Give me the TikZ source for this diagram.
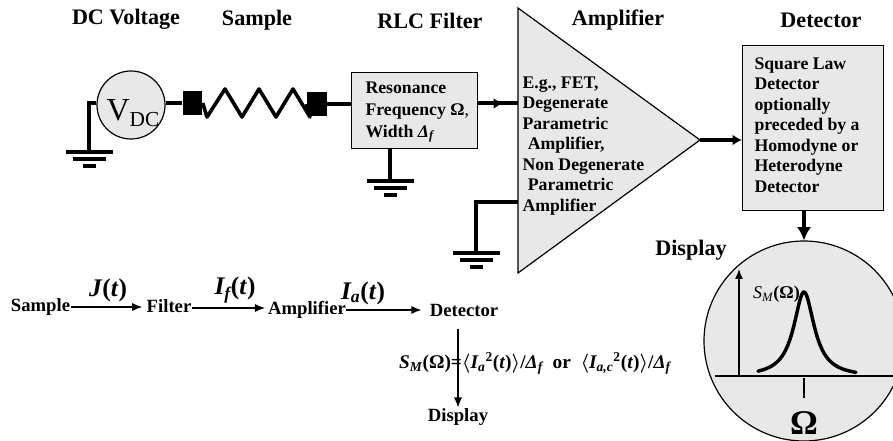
\documentclass[tikz,border=0pt]{standalone}
\usepackage{fontspec}
\setmainfont{Liberation Serif}
\usetikzlibrary{arrows.meta}
\tikzset{every picture/.style={line width=0.75pt}}
\definecolor{panelgray}{RGB}{232,232,232}
\tikzset{
  heading/.style={inner sep=0pt,font=\fontsize{16.6}{18}\selectfont\bfseries},
  boxtext/.style={inner sep=0pt,align=left,anchor=north west,font=\fontsize{13.3}{15.4}\selectfont\bfseries},
  flowtext/.style={inner sep=0pt,text height=9pt,text depth=2.5pt,font=\fontsize{14}{16}\selectfont\bfseries},
  signal/.style={inner sep=0pt,font=\fontsize{19}{21}\selectfont\bfseries\itshape},
  panel/.style={draw=black,fill=panelgray,line width=0.9pt},
  wire/.style={line width=3pt},
  lead/.style={line width=3pt,-{Latex[length=7pt,width=8pt]}},
  flow/.style={line width=0.8pt,-{Latex[length=7.5pt,width=6pt]}},
  padblock/.style={fill=black,inner sep=0pt,minimum width=14.5pt,minimum height=18pt},
  groundbars/.pic={
    \fill (-23.5,2.3) rectangle (23.5,-2.3);
    \fill (-16.5,-4.7) rectangle (16.5,-9.3);
    \fill (-6.5,-11.7) rectangle (6.5,-16.3);
  }
}
\begin{document}
\begin{tikzpicture}[x=0.75pt,y=0.75pt,yscale=-1,xscale=1]
\useasboundingbox (0,0) rectangle (893,441);
\clip (0,0) rectangle (893,441);

% Headings
\node [heading] (headVolt) at (126,19.5) {DC Voltage};
\node [heading] (headSample) at (257,20.5) {Sample};
\node [heading] (headFilter) at (430,20.5) {RLC Filter};
\node [heading] (headAmp) at (618,20.5) {Amplifier};
\node [heading] (headDet) at (821,20.5) {Detector};
\node [heading] (headDisplay) at (691,250) {Display};

% Source
\node [panel,circle,inner sep=0pt,minimum size=51pt] (vdc) at (131,105) {};
\node [inner sep=0pt,font=\fontsize{24}{26}\selectfont] (vdcLabel) at (133,113) {V\raisebox{-4.5pt}{\fontsize{16}{18}\selectfont DC}};
\coordinate (groundA) at (89,152);
\draw [wire] (vdc.west |- 0,103) -- (89,103) -- (groundA);
\path (groundA) pic {groundbars};

% Sample
\node [padblock] (padLeft) at (192.5,103) {};
\node [padblock] (padRight) at (317,104) {};
\draw [wire] (vdc.east |- padLeft) -- (padLeft);
\draw [line width=2.7pt,line join=round] (padLeft.east) -- (207,117) -- (225,89) -- (242,117) -- (259,89) -- (276,117) -- (293,89) -- (310,117) -- (padRight.west);

% Filter
\node [panel,anchor=north west,inner sep=0pt,minimum width=94.5pt,minimum height=57pt] (filterBox) at (351,72) {};
\node [boxtext,font=\fontsize{13.3}{16.5}\selectfont\bfseries] (filterText) at (365,81) {Resonance\\Frequency Ω{\mdseries,}\\Width \textbf{\textit{Δ\textsubscript{f}}}};
\coordinate (groundB) at (390,181);
\draw [wire] (filterBox.south -| groundB) -- (groundB);
\path (groundB) pic {groundbars};
\draw [wire] (padRight) -- (padRight -| filterBox.west);

% Amplifier
\coordinate (ampTop) at (518,8);
\coordinate (ampBottom) at (518,273);
\coordinate (ampTip) at (700,140);
\coordinate (ampIn) at (518,103.5);
\coordinate (ampGnd) at (518,202);
\coordinate (groundC) at (476,253);
\draw [panel] (ampTop) -- (ampTip) -- (ampBottom) -- cycle;
\node [boxtext] (ampText) at (522,76) {E.g., FET,\\Degenerate\\Parametric\\\hspace*{4pt}Amplifier,\\Non Degenerate\\\hspace*{4pt}Parametric\\Amplifier};
\draw [wire] (filterBox.east |- ampIn) -- (ampIn);
\draw [lead] (filterBox.east |- ampIn) -- (503,103.5);
\draw [wire] (ampGnd) -- (476,202) -- (groundC);
\path (groundC) pic {groundbars};

% Detector
\node [panel,anchor=north west,inner sep=0pt,minimum width=105.75pt,minimum height=123.75pt] (detBox) at (742,45) {};
\node [boxtext] (detText) at (754,57) {Square Law\\Detector\\optionally\\preceded by a\\Homodyne or\\Heterodyne\\Detector};
\draw [lead] (ampTip) -- (ampTip -| detBox.west);

% Display
\node [panel,circle,inner sep=0pt,minimum size=150pt] (screen) at (804,341) {};
\draw [wire,-{Latex[length=10pt,width=10.7pt]}] (detBox.south -| screen.north) -- (screen.north);
\coordinate (axisO) at (739,376);
\coordinate (axisY) at (739,269);
\coordinate (axisL) at (715,376);
\coordinate (axisR) at (893,376);
\draw [flow,line width=1pt] (axisO) -- (axisY);
\draw [line width=1pt] (axisL) -- (axisR);
\draw [line width=2.6pt,line cap=round] plot[domain=758:856,samples=70,smooth] (\x,{377-85/(1+((\x-804)/12.5)^2)});
\node [inner sep=0pt,font=\fontsize{13.5}{15}\selectfont] (screenLabel) at (776.5,294) {\textit{S\textsubscript{M}}\textbf{(Ω)}};
\node [inner sep=0pt,font=\fontsize{26}{28}\selectfont\bfseries] (screenOmega) at (804,423) {Ω};
\coordinate (tickA) at (804,378);
\coordinate (tickB) at (804,398);
\draw [line width=1pt] (tickA) -- (tickB);

% Signal chain
\node [flowtext] (lowSample) at (40.5,307) {Sample};
\node [flowtext] (lowFilter) at (169,308) {Filter};
\node [flowtext] (lowAmp) at (307,310) {Amplifier};
\node [flowtext] (lowDet) at (464,312) {Detector};
\node [flowtext] (lowDisplay) at (458,417) {Display};
\node [signal] (sigJ) at (108,290) {J\textup{(}t\textup{)}};
\node [signal] (sigF) at (235,290) {I\textsubscript{f}\textup{(}t\textup{)}};
\node [signal] (sigA) at (363,293) {I\textsubscript{a}\textup{(}t\textup{)}};
\draw [flow,shorten >=3pt] (lowSample.east) -- (lowSample.east -| lowFilter.west);
\draw [flow,shorten >=2pt] (lowFilter.east) -- (lowFilter.east -| lowAmp.west);
\draw [flow] (lowAmp.east) -- ++(75,0);
\draw [flow,shorten <=6.5pt,shorten >=1pt] (lowDisplay.north |- lowDet.south) -- (lowDisplay.north);
\node [inner sep=0pt,font=\fontsize{14.5}{16}\selectfont\bfseries] (psdText) at (535,363.5) {{\boldmath\textit{S\textsubscript{M}}(Ω)=$\langle$\textit{I\textsubscript{a}}\textsuperscript{2}(\textit{t})$\rangle$/\textit{Δ\textsubscript{f}}\ \ or\ \ $\langle$\textit{I\textsubscript{a,c}}\textsuperscript{2}(\textit{t})$\rangle$/\textit{Δ\textsubscript{f}}}};

\end{tikzpicture}
\end{document}
